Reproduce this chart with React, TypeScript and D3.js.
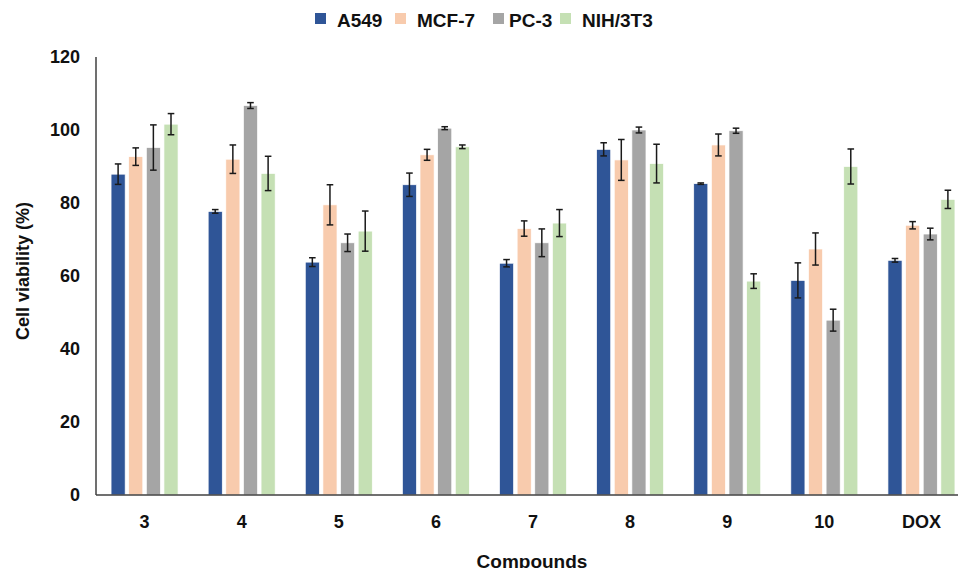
import React from 'react';
import * as d3 from 'd3';

const compounds = ['3', '4', '5', '6', '7', '8', '9', '10', 'DOX'];
const cellLines = ['A549', 'MCF-7', 'PC-3', 'NIH/3T3'];
const colors = ['#2F5597', '#F8CBAD', '#A5A5A5', '#C5E0B4'];

// mean viability per cell line, one entry per compound
const a549 = [87.9, 77.7, 63.8, 85.0, 63.5, 94.7, 85.3, 58.8, 64.3];
const mcf7 = [92.7, 92.0, 79.5, 93.2, 73.0, 91.8, 95.9, 67.4, 73.9];
const pc3 = [95.2, 106.7, 69.1, 100.5, 69.1, 100.0, 99.8, 47.9, 71.5];
const nih3t3 = [101.6, 88.1, 72.3, 95.4, 74.5, 90.8, 58.6, 90.0, 81.0];

// standard deviations
const a549Err = [2.8, 0.5, 1.2, 3.2, 1.0, 1.8, 0.2, 4.8, 0.5];
const mcf7Err = [2.4, 3.9, 5.5, 1.5, 2.1, 5.6, 3.0, 4.4, 1.0];
const pc3Err = [6.2, 0.8, 2.4, 0.4, 3.8, 0.8, 0.7, 3.0, 1.6];
const nih3t3Err = [2.9, 4.7, 5.5, 0.5, 3.7, 5.3, 2.0, 4.8, 2.5];

const yTicks = [0, 20, 40, 60, 80, 100, 120];

const values = [a549, mcf7, pc3, nih3t3];
const errors = [a549Err, mcf7Err, pc3Err, nih3t3Err];

const W = 958;
const H = 568;
const left = 96;
const right = 970;
const top = 57;
const bottom = 495;
const groupW = 67;

const legendSq = [315, 395, 493, 560];
const legendTx = [337, 417, 509, 582];

export default function App() {
  const x = d3.scaleBand().domain(compounds).range([left, right]).padding(0);
  const x1 = d3.scaleBand().domain(cellLines).range([0, groupW]).paddingInner(0.2);
  const y = d3.scaleLinear().domain([0, 120]).range([bottom, top]);

  const font = '"Liberation Sans", Arial, sans-serif';

  return (
    <svg width={W} height={H} style={{ position: 'absolute', left: 0, top: 0, background: '#fff' }} fontFamily={font}>
      {/* legend */}
      {cellLines.map((name, i) => (
        <g key={name}>
          <rect x={legendSq[i]} y={13} width={11} height={11} fill={colors[i]} />
          <text x={legendTx[i]} y={26.5} fontSize={19} fontWeight="bold" fill="#111">{name}</text>
        </g>
      ))}

      {/* y tick labels */}
      {yTicks.map(t => (
        <text key={t} x={80} y={y(t)} dy="0.36em" textAnchor="end" fontSize={18} fontWeight="bold" fill="#111">{t}</text>
      ))}

      <text transform={`translate(29, 271) rotate(-90)`} textAnchor="middle" fontSize={18} fontWeight="bold" fill="#111">Cell viability (%)</text>

      {/* bars */}
      {compounds.map((c, ci) => {
        const g0 = (x(c) as number) + x.bandwidth() / 2 - groupW / 2;
        return (
          <g key={c}>
            {cellLines.map((s, si) => {
              const v = values[si][ci];
              const e = errors[si][ci];
              const bx = g0 + (x1(s) as number);
              const bw = x1.bandwidth();
              const cx = bx + bw / 2;
              return (
                <g key={s}>
                  <rect x={bx} y={y(v)} width={bw} height={bottom - y(v)} fill={colors[si]} stroke="#fff" strokeWidth={0.7} />
                  <g stroke="#1a1a1a" strokeWidth={1.5}>
                    <line x1={cx} x2={cx} y1={y(v + e)} y2={y(v - e)} />
                    <line x1={cx - 3.3} x2={cx + 3.3} y1={y(v + e)} y2={y(v + e)} />
                    <line x1={cx - 3.3} x2={cx + 3.3} y1={y(v - e)} y2={y(v - e)} />
                  </g>
                </g>
              );
            })}
          </g>
        );
      })}

      {/* axes */}
      <line x1={left} x2={left} y1={top} y2={bottom} stroke="#404040" strokeWidth={1.5} />
      <line x1={left} x2={W} y1={bottom} y2={bottom} stroke="#404040" strokeWidth={1.5} />

      {/* x tick labels */}
      {compounds.map(c => (
        <text key={c} x={(x(c) as number) + x.bandwidth() / 2} y={522} dy="0.36em" textAnchor="middle" fontSize={18} fontWeight="bold" fill="#111">{c}</text>
      ))}

      <text x={532} y={568} textAnchor="middle" fontSize={19} fontWeight="bold" fill="#111">Compounds</text>
    </svg>
  );
}
